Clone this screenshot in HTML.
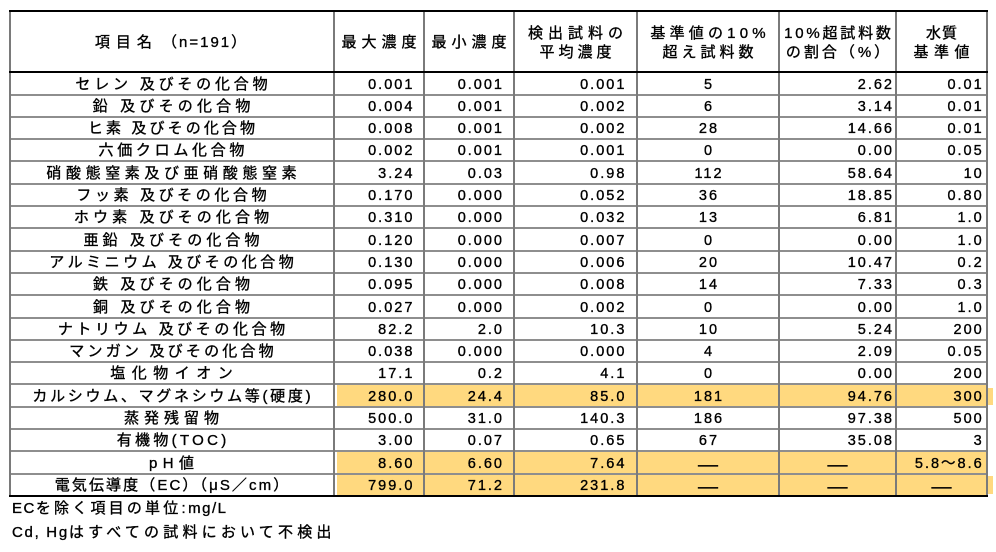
<!DOCTYPE html>
<html><head><meta charset="utf-8">
<style>
html,body{margin:0;padding:0}
body{width:996px;height:552px;background:#fff;position:relative;overflow:hidden;font-family:"Liberation Sans","Noto Sans CJK JP",sans-serif;color:#000;-webkit-text-stroke:0.35px #000}
.hlb{position:absolute;background:#ffd97f}
.gh{position:absolute;left:9px;width:979px;height:2px;background:#8e8e8e}
.gv{position:absolute;top:10px;width:2px;height:486px;background:#7a7a7a}
.bk{position:absolute;left:9px;width:979px;background:#000}
.r{position:absolute;left:0;width:996px;height:22.3px;line-height:22.3px;white-space:nowrap}
.r div{position:absolute;top:0;height:22.3px;box-sizing:border-box;font-size:14.5px;letter-spacing:2px;text-align:right}
.r .c0{left:10px;width:323px;text-align:center;font-size:15px}
.r .c1{left:334px;width:90px;padding-right:9.6px}
.r .c2{left:424px;width:90px;padding-right:10px}
.r .c3{left:514px;width:123px;padding-right:10.6px}
.r .c4{left:637px;width:142px;text-align:center;padding-left:2px}
.r .c5{left:779px;width:117px;padding-right:2px}
.r .c6{left:896px;width:91px;padding-right:3.3px}
.d{font-size:20px;letter-spacing:0;position:relative;top:1.5px}
.r .dc{letter-spacing:0;padding-left:0;padding-right:0;text-align:center}
.h{position:absolute;line-height:19px;font-size:15px;text-align:center;white-space:nowrap;box-sizing:border-box}
.f{position:absolute;left:12px;line-height:19px;font-size:15px;white-space:nowrap}
</style></head><body>

<!-- highlights -->
<div class="hlb" style="left:337px;top:384.7px;width:649px;height:21.5px"></div>
<div class="hlb" style="left:988px;top:388px;width:5px;height:17px"></div>
<div class="hlb" style="left:337px;top:451.6px;width:649px;height:21.5px"></div>
<div class="hlb" style="left:337px;top:473.9px;width:649px;height:21.5px"></div>
<div class="hlb" style="left:988px;top:476px;width:5px;height:18px"></div>

<!-- horizontal grid lines -->
<div class="gh" style="top:93.5px"></div>
<div class="gh" style="top:115.8px"></div>
<div class="gh" style="top:138.1px"></div>
<div class="gh" style="top:160.4px"></div>
<div class="gh" style="top:182.7px"></div>
<div class="gh" style="top:205px"></div>
<div class="gh" style="top:227.3px"></div>
<div class="gh" style="top:249.6px"></div>
<div class="gh" style="top:271.9px"></div>
<div class="gh" style="top:294.2px"></div>
<div class="gh" style="top:316.5px"></div>
<div class="gh" style="top:338.8px"></div>
<div class="gh" style="top:361.1px"></div>
<div class="gh" style="top:383.4px"></div>
<div class="gh" style="top:405.7px"></div>
<div class="gh" style="top:428px"></div>
<div class="gh" style="top:450.3px"></div>
<div class="gh" style="top:472.6px"></div>

<!-- vertical grid lines -->
<div class="gv" style="left:9px"></div>
<div class="gv" style="left:333px"></div>
<div class="gv" style="left:423px"></div>
<div class="gv" style="left:513px"></div>
<div class="gv" style="left:636px"></div>
<div class="gv" style="left:778px"></div>
<div class="gv" style="left:895px"></div>
<div class="gv" style="left:986px"></div>

<!-- black lines -->
<div class="bk" style="top:9.5px;height:2.2px"></div>
<div class="bk" style="top:70.8px;height:2px"></div>
<div class="bk" style="top:494.8px;height:2.2px"></div>

<!-- header -->
<div class="h" style="left:10px;width:323px;top:33.3px"><span style="letter-spacing:6px">項目名</span> <span style="letter-spacing:2px">（n=191）</span></div>
<div class="h" style="left:334px;width:90px;top:33.3px;letter-spacing:5px;padding-left:5px">最大濃度</div>
<div class="h" style="left:424px;width:90px;top:33.3px;letter-spacing:5px;padding-left:5px">最小濃度</div>
<div class="h" style="left:514px;width:123px;top:24.3px;letter-spacing:5px;padding-left:5px">検出試料の</div>
<div class="h" style="left:514px;width:123px;top:43.3px;letter-spacing:4px;padding-left:4px">平均濃度</div>
<div class="h" style="left:637px;width:142px;top:24.3px;letter-spacing:4.2px;padding-left:4.2px">基準値の10%</div>
<div class="h" style="left:637px;width:142px;top:43.3px;letter-spacing:4px;padding-left:4px">超え試料数</div>
<div class="h" style="left:779px;width:117px;top:24.3px;letter-spacing:2.8px;padding-left:2.8px">10%超試料数</div>
<div class="h" style="left:779px;width:117px;top:43.3px;letter-spacing:3px;padding-left:3px">の割合（%）</div>
<div class="h" style="left:896px;width:91px;top:24.3px;letter-spacing:1px;padding-left:1px">水質</div>
<div class="h" style="left:896px;width:91px;top:43.3px;letter-spacing:5.5px;padding-left:5.5px">基準値</div>

<!-- rows -->
<div class="r" style="top:73.5px"><div class="c0" style="letter-spacing:3.8px;padding-left:3.8px">セレン 及びその化合物</div><div class="c1">0.001</div><div class="c2">0.001</div><div class="c3">0.001</div><div class="c4">5</div><div class="c5">2.62</div><div class="c6">0.01</div></div>
<div class="r" style="top:95.8px"><div class="c0" style="letter-spacing:4.2px;padding-left:4.2px">鉛 及びその化合物</div><div class="c1">0.004</div><div class="c2">0.001</div><div class="c3">0.002</div><div class="c4">6</div><div class="c5">3.14</div><div class="c6">0.01</div></div>
<div class="r" style="top:118.1px"><div class="c0" style="letter-spacing:3.1px;padding-left:3.1px">ヒ素 及びその化合物</div><div class="c1">0.008</div><div class="c2">0.001</div><div class="c3">0.002</div><div class="c4">28</div><div class="c5">14.66</div><div class="c6">0.01</div></div>
<div class="r" style="top:140.4px"><div class="c0" style="letter-spacing:3.7px;padding-left:3.7px">六価クロム化合物</div><div class="c1">0.002</div><div class="c2">0.001</div><div class="c3">0.001</div><div class="c4">0</div><div class="c5">0.00</div><div class="c6">0.05</div></div>
<div class="r" style="top:162.7px"><div class="c0" style="letter-spacing:4.6px;padding-left:4.6px">硝酸態窒素及び亜硝酸態窒素</div><div class="c1">3.24</div><div class="c2">0.03</div><div class="c3">0.98</div><div class="c4">112</div><div class="c5">58.64</div><div class="c6">10</div></div>
<div class="r" style="top:185px"><div class="c0" style="letter-spacing:3.6px;padding-left:3.6px">フッ素 及びその化合物</div><div class="c1">0.170</div><div class="c2">0.000</div><div class="c3">0.052</div><div class="c4">36</div><div class="c5">18.85</div><div class="c6">0.80</div></div>
<div class="r" style="top:207.3px"><div class="c0" style="letter-spacing:4.1px;padding-left:4.1px">ホウ素 及びその化合物</div><div class="c1">0.310</div><div class="c2">0.000</div><div class="c3">0.032</div><div class="c4">13</div><div class="c5">6.81</div><div class="c6">1.0</div></div>
<div class="r" style="top:229.6px"><div class="c0" style="letter-spacing:4.1px;padding-left:4.1px">亜鉛 及びその化合物</div><div class="c1">0.120</div><div class="c2">0.000</div><div class="c3">0.007</div><div class="c4">0</div><div class="c5">0.00</div><div class="c6">1.0</div></div>
<div class="r" style="top:251.9px"><div class="c0" style="letter-spacing:3.5px;padding-left:3.5px">アルミニウム 及びその化合物</div><div class="c1">0.130</div><div class="c2">0.000</div><div class="c3">0.006</div><div class="c4">20</div><div class="c5">10.47</div><div class="c6">0.2</div></div>
<div class="r" style="top:274.2px"><div class="c0" style="letter-spacing:4.1px;padding-left:4.1px">鉄 及びその化合物</div><div class="c1">0.095</div><div class="c2">0.000</div><div class="c3">0.008</div><div class="c4">14</div><div class="c5">7.33</div><div class="c6">0.3</div></div>
<div class="r" style="top:296.5px"><div class="c0" style="letter-spacing:4.1px;padding-left:4.1px">銅 及びその化合物</div><div class="c1">0.027</div><div class="c2">0.000</div><div class="c3">0.002</div><div class="c4">0</div><div class="c5">0.00</div><div class="c6">1.0</div></div>
<div class="r" style="top:318.8px"><div class="c0" style="letter-spacing:3.6px;padding-left:3.6px">ナトリウム 及びその化合物</div><div class="c1">82.2</div><div class="c2">2.0</div><div class="c3">10.3</div><div class="c4">10</div><div class="c5">5.24</div><div class="c6">200</div></div>
<div class="r" style="top:341.1px"><div class="c0" style="letter-spacing:3.2px;padding-left:3.2px">マンガン 及びその化合物</div><div class="c1">0.038</div><div class="c2">0.000</div><div class="c3">0.000</div><div class="c4">4</div><div class="c5">2.09</div><div class="c6">0.05</div></div>
<div class="r" style="top:363.4px"><div class="c0" style="letter-spacing:6.5px;padding-left:6.5px">塩化物イオン</div><div class="c1">17.1</div><div class="c2">0.2</div><div class="c3">4.1</div><div class="c4">0</div><div class="c5">0.00</div><div class="c6">200</div></div>
<div class="r" style="top:385.7px"><div class="c0" style="letter-spacing:2.7px;padding-left:2.7px">カルシウム、マグネシウム等(硬度)</div><div class="c1">280.0</div><div class="c2">24.4</div><div class="c3">85.0</div><div class="c4">181</div><div class="c5">94.76</div><div class="c6">300</div></div>
<div class="r" style="top:408px"><div class="c0" style="letter-spacing:5px;padding-left:5px">蒸発残留物</div><div class="c1">500.0</div><div class="c2">31.0</div><div class="c3">140.3</div><div class="c4">186</div><div class="c5">97.38</div><div class="c6">500</div></div>
<div class="r" style="top:430.3px"><div class="c0" style="letter-spacing:3.3px;padding-left:3.3px">有機物(TOC)</div><div class="c1">3.00</div><div class="c2">0.07</div><div class="c3">0.65</div><div class="c4">67</div><div class="c5">35.08</div><div class="c6">3</div></div>
<div class="r" style="top:452.6px"><div class="c0" style="letter-spacing:5.4px;padding-left:5.4px">pH値</div><div class="c1">8.60</div><div class="c2">6.60</div><div class="c3">7.64</div><div class="c4 dc"><span class="d">—</span></div><div class="c5 dc"><span class="d">—</span></div><div class="c6">5.8〜8.6</div></div>
<div class="r" style="top:474.9px"><div class="c0" style="letter-spacing:2.1px;padding-left:2.1px">電気伝導度（EC）（μS／cm）</div><div class="c1">799.0</div><div class="c2">71.2</div><div class="c3">231.8</div><div class="c4 dc"><span class="d">—</span></div><div class="c5 dc"><span class="d">—</span></div><div class="c6 dc"><span class="d">—</span></div></div>

<!-- footer -->
<div class="f" style="top:499.3px"><span style="letter-spacing:1.5px">EC</span><span style="letter-spacing:3.2px">を除く項目の単位</span><span style="letter-spacing:2.5px">:</span><span style="letter-spacing:1.5px">mg/L</span></div>
<div class="f" style="top:522.7px"><span style="letter-spacing:1.7px">Cd, Hg</span><span style="letter-spacing:4.2px">はすべての試料において不検出</span></div>

</body></html>
